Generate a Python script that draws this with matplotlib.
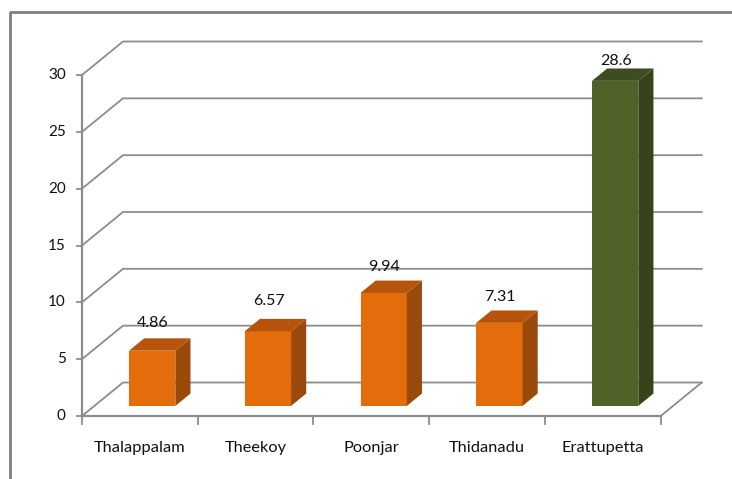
import matplotlib
matplotlib.use("Agg")
import matplotlib.pyplot as plt
from matplotlib.lines import Line2D

# Data
places = ["Thalappalam", "Theekoy", "Poonjar", "Thidanadu", "Erattupetta"]
values = [4.86, 6.57, 9.94, 7.31, 28.6]
value_labels = ["4.86", "6.57", "9.94", "7.31", "28.6"]
y_ticks = [0, 5, 10, 15, 20, 25, 30]

# how far each value label sits above the bar, in axis units
label_gap = [2.4, 2.7, 2.3, 2.3, 1.75]

front_colors = ["#E46C0A", "#E46C0A", "#E46C0A", "#E46C0A", "#4F6228"]
side_colors = ["#9A4A0A", "#9A4A0A", "#9A4A0A", "#9A4A0A", "#36431B"]
top_colors = ["#B5540A", "#B5540A", "#B5540A", "#B5540A", "#3E4D20"]

plt.rcParams["font.family"] = ["Lato", "DejaVu Sans"]
W, H = 732, 479
fig = plt.figure(figsize=(W / 100, H / 100), dpi=100)

# axes box is the front plane of the 3d chart
left, right, bottom, top = 82, 660.7, 416, 75
ax = fig.add_axes([left / W, 1 - bottom / H, (right - left) / W, (bottom - top) / H])
ax.set_xlim(-0.5, 4.5)
ax.set_ylim(0, 30)
ax.axis("off")

# depth of the fake 3d box in data units
depth_x = 41 / ((right - left) / 5)
depth_y = 33.5 / ((bottom - top) / 30)
bar_w = 0.4
d0, d1 = 0.3, 0.67
grid_col = "#8C8C8C"

# walls: gridlines go back along the side and then across
for t in y_ticks:
    ax.plot([-0.5, -0.5 + depth_x, 4.5 + depth_x], [t, t + depth_y, t + depth_y],
            color=grid_col, lw=1.3, clip_on=False, zorder=1)
    ax.plot([-0.5 - 0.04, -0.5], [t, t], color=grid_col, lw=1.3, clip_on=False, zorder=1)

# floor and front axis
ax.plot([4.5, 4.5 + depth_x], [0, depth_y], color=grid_col, lw=1.3, clip_on=False, zorder=1)
ax.plot([-0.5, 4.5], [0, 0], color=grid_col, lw=1.6, clip_on=False, zorder=1)
ax.plot([-0.5, -0.5], [0, 30], color=grid_col, lw=1.6, clip_on=False, zorder=1)
for i in range(6):
    ax.plot([i - 0.5, i - 0.5], [0, -0.7], color=grid_col, lw=1.3, clip_on=False, zorder=1)

# bars
for i, v in enumerate(values):
    x0 = i - bar_w / 2 + d0 * depth_x
    x1 = x0 + bar_w
    y0 = d0 * depth_y
    sx = (d1 - d0) * depth_x
    sy = (d1 - d0) * depth_y
    ax.bar(x0, v, width=bar_w, bottom=y0, align="edge", color=front_colors[i], zorder=3, clip_on=False)
    ax.fill([x1, x1 + sx, x1 + sx, x1], [y0, y0 + sy, y0 + v + sy, y0 + v],
            color=side_colors[i], lw=0, zorder=3, clip_on=False)
    ax.fill([x0, x1, x1 + sx, x0 + sx], [y0 + v, y0 + v, y0 + v + sy, y0 + v + sy],
            color=top_colors[i], lw=0, zorder=3, clip_on=False)
    ax.text(i + 0.5 * (d0 + d1) * depth_x - 0.06, y0 + v + label_gap[i], value_labels[i],
            ha="center", va="center", fontsize=11.5, color="#111111", zorder=4, clip_on=False)
    ax.text(i, -2.85, places[i], ha="center", va="center", fontsize=11.8, color="#111111", clip_on=False)

for t in y_ticks:
    ax.text(-0.5 - 0.14, t, str(t), ha="right", va="center", fontsize=11, color="#111111", clip_on=False)

# picture border, only top and left are visible
fig.add_artist(Line2D([10 / W, 10 / W, 1], [0, 1 - 11.5 / H, 1 - 11.5 / H], color="#808080", lw=2))

fig.savefig("out.png", dpi=100, facecolor="white")
